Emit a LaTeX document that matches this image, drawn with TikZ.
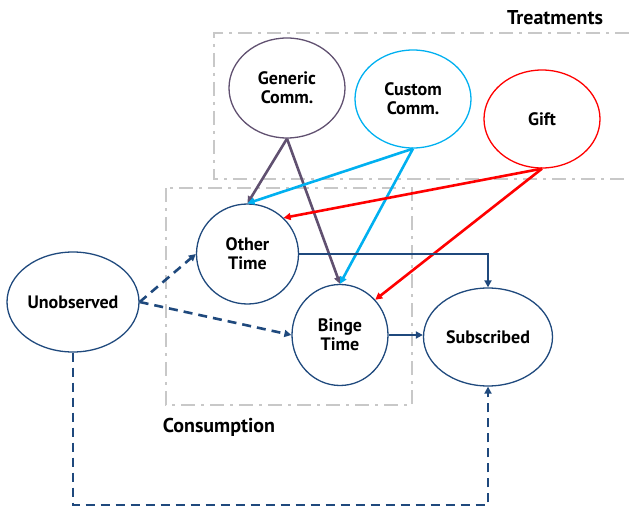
\documentclass[tikz,border=0pt]{standalone}
\usepackage{fontspec}
\setmainfont{PT Sans}
\usetikzlibrary{positioning,calc,shapes.geometric,arrows.meta}

\definecolor{navy}{RGB}{31,73,125}
\definecolor{plum}{RGB}{96,80,112}
\definecolor{sky}{RGB}{0,176,240}
\definecolor{boxgrey}{RGB}{200,200,200}

\begin{document}
\begin{tikzpicture}[x=1pt,y=-1pt,>={Triangle[length=7pt,width=7pt]},
    var/.style={ellipse,draw=navy,line width=1.3pt,inner sep=0pt,align=center,font=\fontsize{18}{19}\selectfont\bfseries},
    group/.style={draw=boxgrey,line width=2.4pt,dash pattern=on 14pt off 6pt on 3pt off 6pt},
    link/.style={->,line width=2.6pt},
    latent/.style={->,navy,line width=2.6pt,dash pattern=on 9pt off 6pt}]
    \useasboundingbox (0,0) rectangle (629,508);

    % groups
    \draw[group] (629,33) -- (214,33) -- (214,179) -- (629,179);
    \draw[group] (166,188) rectangle (412,405);
    \node[font=\fontsize{20}{22}\selectfont\bfseries] (treat) at (555,18) {Treatments};
    \node[font=\fontsize{20}{22}\selectfont\bfseries] (cons) at (219,427) {Consumption};

    % treatments
    \node[var,draw=plum,minimum width=116pt,minimum height=100pt] (gen) at (287,88) {Generic\\Comm.};
    \node[var,draw=sky,minimum width=116pt,minimum height=98pt] (cus) at (413,99) {Custom\\Comm.};
    \node[var,draw=red,minimum width=116pt,minimum height=98pt] (gift) at (542,119) {Gift};

    % outcomes
    \node[var,minimum width=102pt,minimum height=100pt] (oth) at (247.5,254) {Other\\Time};
    \node[var,minimum width=96pt,minimum height=101pt] (bin) at (340,335) {Binge\\Time};
    \node[var,minimum width=129pt,minimum height=98pt] (sub) at (488,337) {Subscribed};
    \node[var,minimum width=132pt,minimum height=100pt] (uno) at (73,302) {Unobserved};
    \coordinate (low) at (0,505);

    \draw[link,plum] (gen.south) -- (oth.north);
    \draw[link,plum] (gen.south) -- (bin.north);
    \draw[link,sky] (cus.south) -- (oth.north);
    \draw[link,sky] (cus.south) -- (bin.north);
    \draw[link,red] (gift.south) -- (oth.45);
    \draw[link,red] (gift.south) -- (bin.45);

    \draw[link,navy] (oth.east) -| (sub.north);
    \draw[link,navy] (bin.east) -- (bin.east -| sub.west);

    \draw[latent] (uno.east) -- (oth.west);
    \draw[latent] (uno.east) -- (bin.west);
    \draw[latent] (uno.south) |- (low -| sub.south) -- (sub.south);
\end{tikzpicture}
\end{document}
